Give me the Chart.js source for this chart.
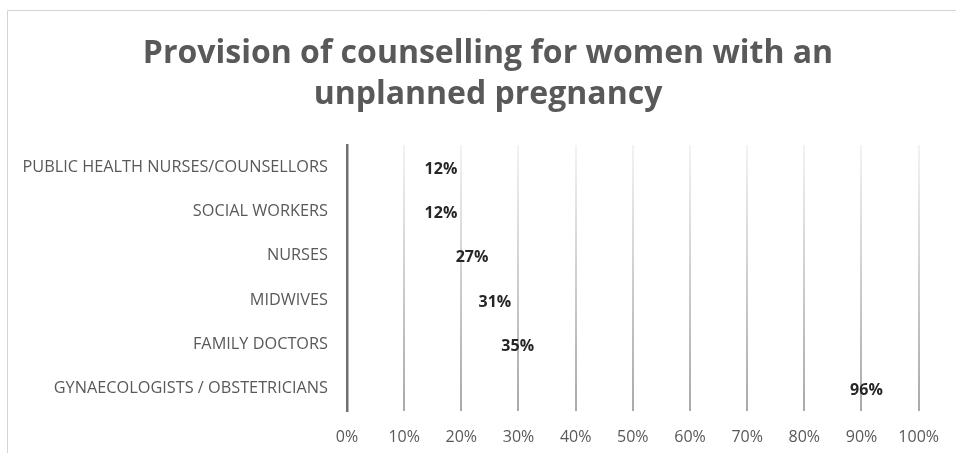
<!DOCTYPE html>
<html>
<head>
<meta charset="utf-8">
<title>Provision of counselling</title>
<script src="https://cdn.jsdelivr.net/npm/chart.js@4.4.1/dist/chart.umd.min.js"></script>
<style>
  html, body { margin: 0; padding: 0; background: #ffffff; }
  #wrap { position: relative; width: 956px; height: 453px; }
</style>
</head>
<body>
<div id="wrap"><canvas id="chart"></canvas></div>
<script>
// Professions offering counselling (top to bottom)
const categories = [
  'PUBLIC HEALTH NURSES/COUNSELLORS',
  'SOCIAL WORKERS',
  'NURSES',
  'MIDWIVES',
  'FAMILY DOCTORS',
  'GYNAECOLOGISTS / OBSTETRICIANS'
];
// Share of respondents (%)
const shares = [12, 12, 27, 31, 35, 96];
// Axis ticks (%)
const tickValues = [0, 10, 20, 30, 40, 50, 60, 70, 80, 90, 100];
const titleLines = ['Provision of counselling for women with an', 'unplanned pregnancy'];

const FONT = '"Open Sans", "Liberation Sans", sans-serif';
const GREY = '#595959';

// Thin frame around the chart, top and left edges
const framePlugin = {
  id: 'frame',
  beforeDraw(chart) {
    const c = chart.ctx;
    c.save();
    c.strokeStyle = '#d4d4d4';
    c.lineWidth = 1;
    c.beginPath();
    c.moveTo(7.5, chart.height);
    c.lineTo(7.5, 10.5);
    c.lineTo(chart.width, 10.5);
    c.stroke();
    c.restore();
  }
};

// Two-line heading centred over the framed area
const headingPlugin = {
  id: 'heading',
  afterDraw(chart) {
    const c = chart.ctx;
    const cx = (7 + chart.width + 13) / 2;
    c.save();
    c.font = 'bold 32px ' + FONT;
    c.fillStyle = GREY;
    c.textAlign = 'center';
    c.textBaseline = 'alphabetic';
    titleLines.forEach((line, i) => c.fillText(line, cx, 63 + i * 40.6));
    c.restore();
  }
};

// Value labels near the end of each bar
const valueLabels = {
  id: 'valueLabels',
  afterDatasetsDraw(chart) {
    const c = chart.ctx;
    const meta = chart.getDatasetMeta(0);
    const data = chart.data.datasets[0].data;
    c.save();
    c.font = 'bold 16px ' + FONT;
    c.fillStyle = '#262626';
    c.textBaseline = 'middle';
    meta.data.forEach((bar, i) => {
      const v = data[i];
      const txt = v + '%';
      if (v < 20) {
        c.textAlign = 'left';
        c.fillText(txt, bar.x + 9, bar.y + 2);
      } else {
        c.textAlign = 'right';
        c.fillText(txt, bar.x - 13, bar.y + 2);
      }
    });
    c.restore();
  }
};

function gridGradient(ctx) {
  const chart = ctx.chart;
  const area = chart.chartArea;
  if (!area) return '#d0d0d0';
  const g = chart.ctx.createLinearGradient(0, area.top, 0, area.bottom);
  g.addColorStop(0, '#f3f3f3');
  g.addColorStop(1, '#a9a9a9');
  return g;
}

new Chart(document.getElementById('chart'), {
  type: 'bar',
  data: {
    labels: categories,
    datasets: [{
      data: shares,
      backgroundColor: 'rgba(255,255,255,0)',
      borderWidth: 0,
      barPercentage: 0.6,
      categoryPercentage: 1
    }]
  },
  options: {
    indexAxis: 'y',
    responsive: true,
    maintainAspectRatio: false,
    animation: false,
    layout: { padding: { left: 0, right: 32, top: 145, bottom: 0 } },
    plugins: {
      legend: { display: false },
      tooltip: { enabled: false },
      title: { display: false }
    },
    scales: {
      x: {
        min: 0,
        max: 100,
        afterBuildTicks(scale) {
          scale.ticks = tickValues.map(v => ({ value: v }));
        },
        afterFit(scale) { scale.height = 42; },
        ticks: {
          color: GREY,
          font: { family: FONT, size: 16 },
          padding: 17,
          callback: v => v + '%'
        },
        grid: {
          color: gridGradient,
          lineWidth: 2,
          drawTicks: false
        },
        border: { display: false }
      },
      y: {
        afterFit(scale) { scale.width = 347; },
        ticks: {
          color: GREY,
          font: { family: FONT, size: 16.3 },
          padding: 19
        },
        grid: { display: false, drawTicks: false },
        border: { display: true, color: '#707070', width: 2.5 }
      }
    }
  },
  plugins: [framePlugin, headingPlugin, valueLabels]
});
</script>
</body>
</html>
